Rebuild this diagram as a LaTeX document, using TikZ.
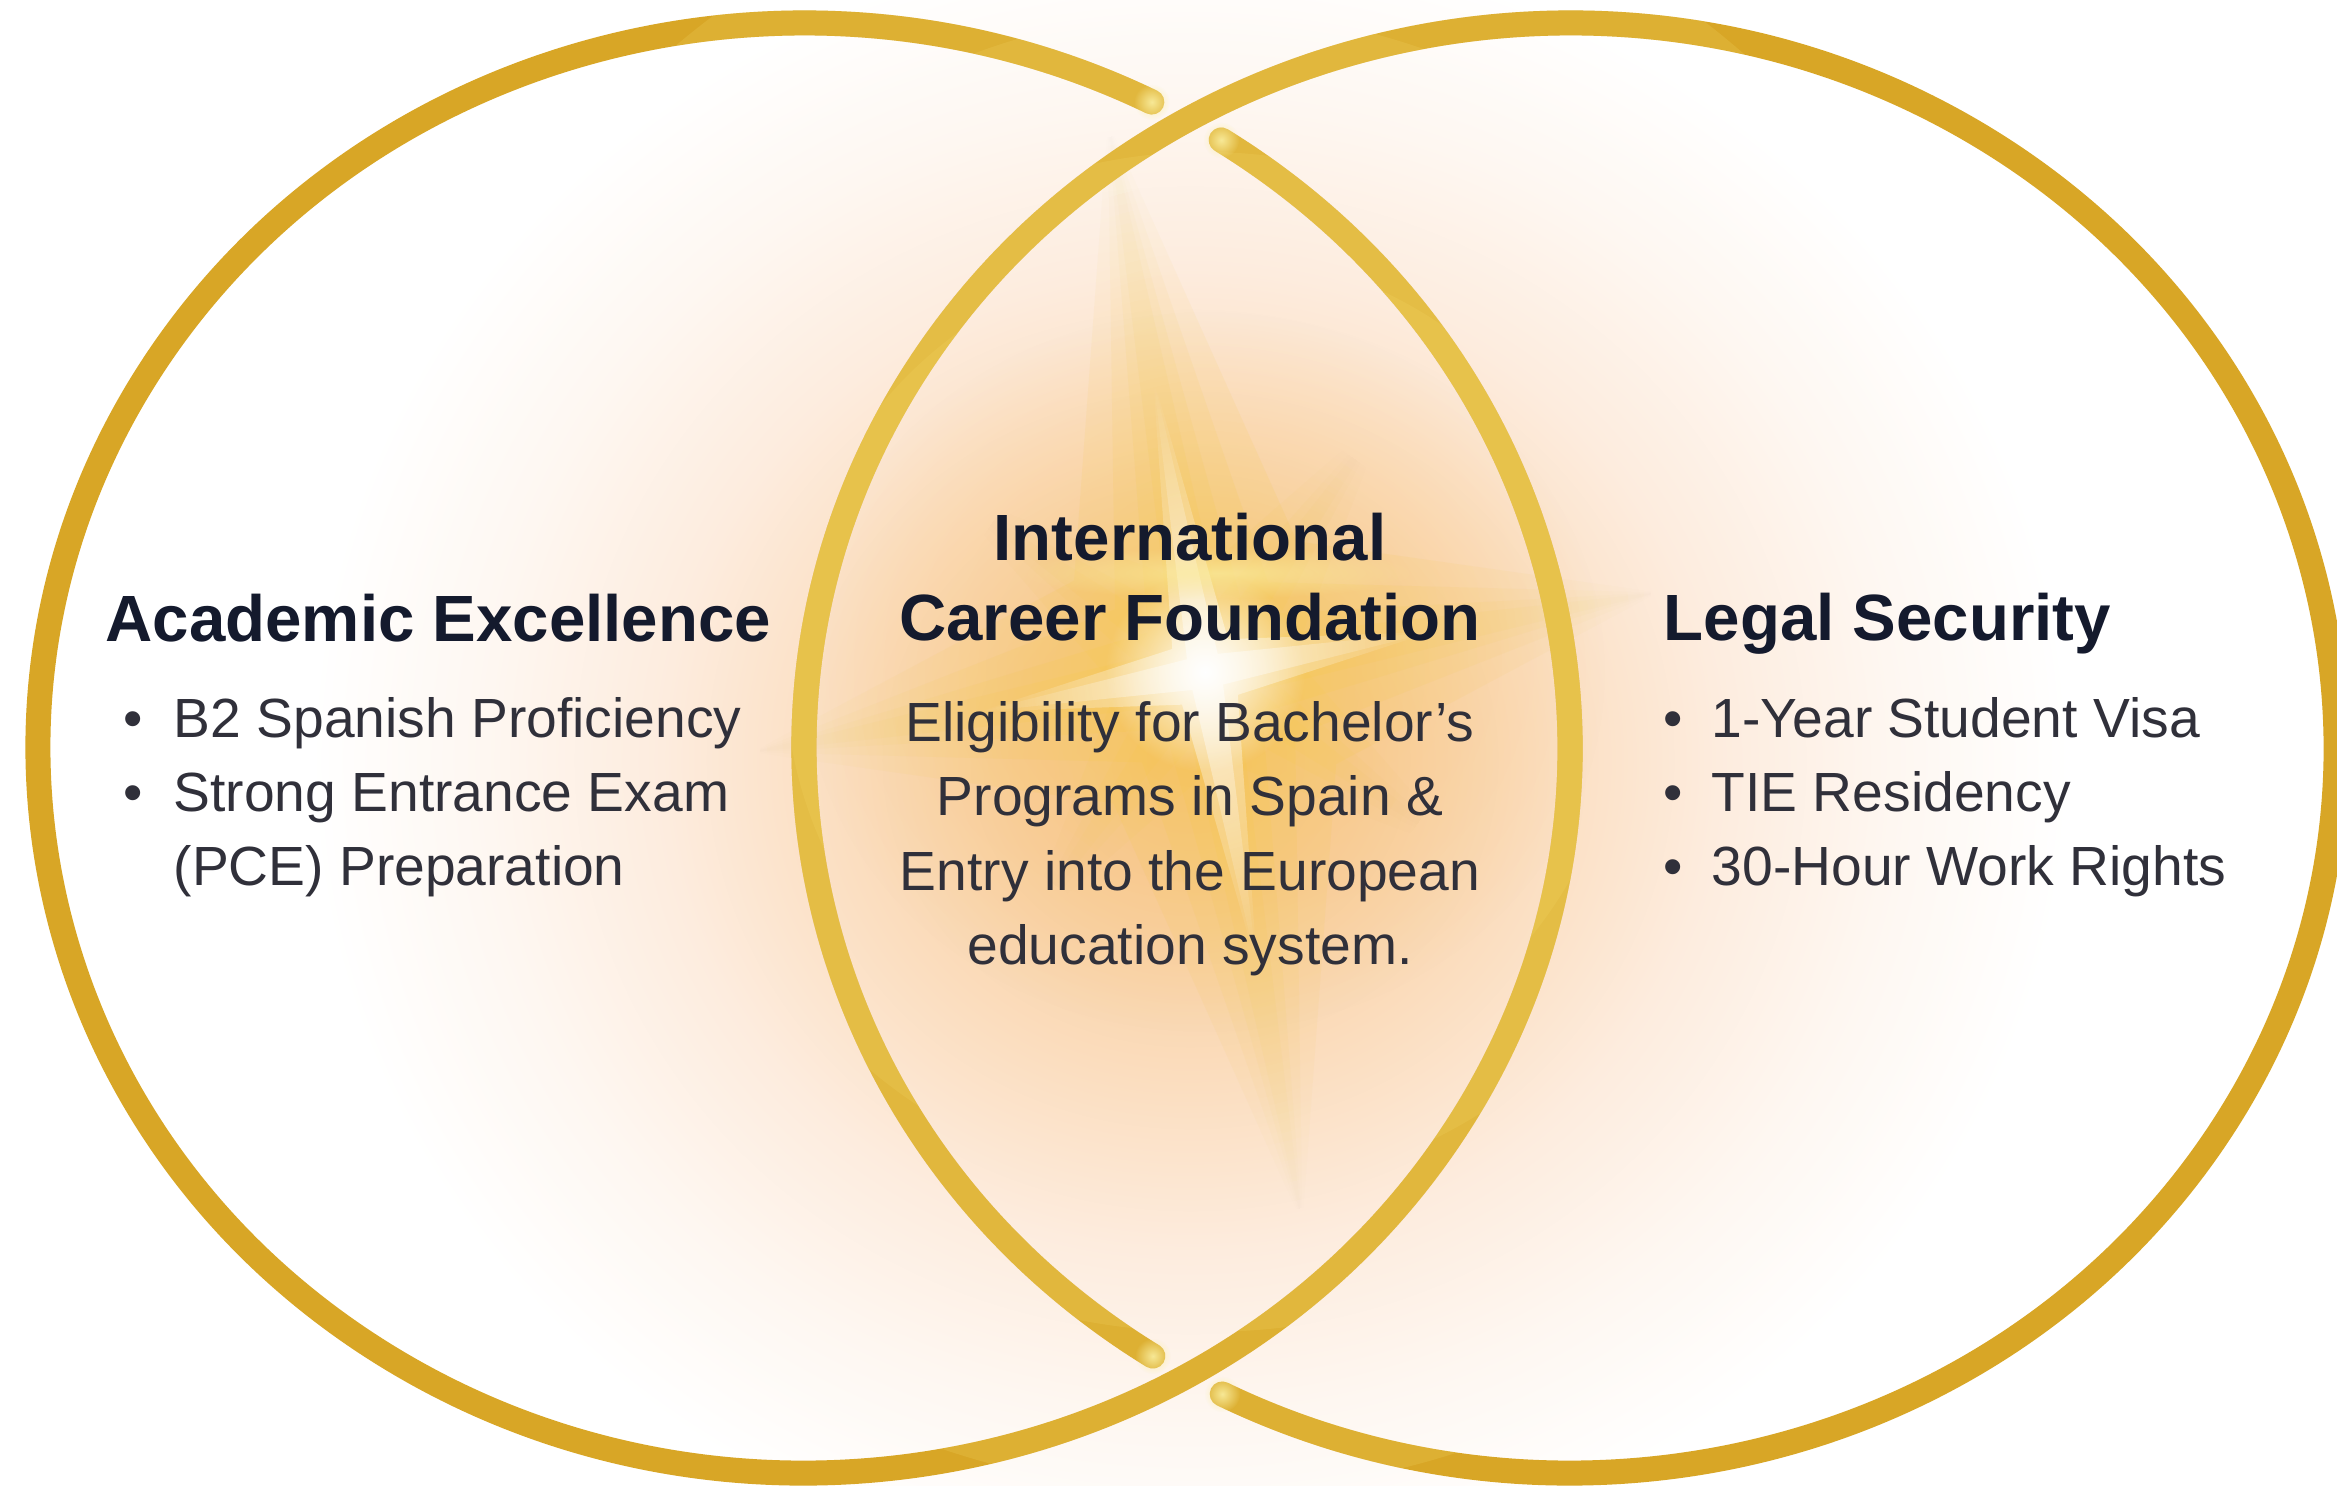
\documentclass[tikz,border=0pt]{standalone}
\usepackage{fontspec}
\setmainfont{Liberation Sans}
\usetikzlibrary{fadings,calc}
\definecolor{gold}{RGB}{216,166,38}
\definecolor{goldlight}{RGB}{242,212,100}
\definecolor{tipglow}{RGB}{250,238,160}
\definecolor{headc}{RGB}{20,26,45}
\definecolor{bodyc}{RGB}{48,48,58}
\definecolor{g0}{RGB}{247,198,142}
\definecolor{g1}{RGB}{249,208,162}
\definecolor{g2}{RGB}{251,222,192}
\definecolor{g3}{RGB}{253,236,222}
\definecolor{g4}{RGB}{254,247,241}
\definecolor{starc}{RGB}{245,200,70}
\definecolor{haloc}{RGB}{246,192,105}
\pgfdeclareradialshading{glowshade}{\pgfpointorigin}{color(0bp)=(g0); color(2.5bp)=(g1); color(5bp)=(g2); color(7.5bp)=(g3); color(10bp)=(g4); color(12.5bp)=(white); color(50bp)=(white)}
\pgfdeclareradialshading{fadeshade}{\pgfpointorigin}{color(0bp)=(white); color(25bp)=(black); color(50bp)=(black)}
\pgfdeclarefading{softfade}{\pgfuseshading{fadeshade}}
\tikzset{
  ring/.style={draw=gold, line width=0.25cm, line cap=round},
  ringlight/.style={draw=goldlight, line width=0.25cm, line cap=round, opacity=0.22},
  head/.style={font=\fontsize{18.6}{22}\selectfont\bfseries, text=headc, inner sep=0pt},
  bodytxt/.style={font=\fontsize{15.7}{21}\selectfont, text=bodyc, inner sep=0pt},
}
\newcommand\leftringpath[1]{\draw[#1] (L) ++(-57:766 and 725) arc[start angle=-57, end angle=297, x radius=766, y radius=725];}
\newcommand\rightringpath[1]{\draw[#1] (R) ++(123:766 and 725) arc[start angle=123, end angle=477, x radius=766, y radius=725];}
\newcommand\sparkle[6]{% colour, opacity, long arm, short arm, waist, base angle
  \fill[#1, opacity=#2, path fading=softfade]
  ($(S)+(#6:#3)$) -- ($(S)+(#6+45:#5)$) -- ($(S)+(#6+90:#4)$) -- ($(S)+(#6+135:#5)$) --
  ($(S)+(#6+180:#3)$) -- ($(S)+(#6+225:#5)$) -- ($(S)+(#6+270:#4)$) -- ($(S)+(#6+315:#5)$) -- cycle;}
\begin{document}
\begin{tikzpicture}[x=0.01cm, y=-0.01cm]
\useasboundingbox (0,0) rectangle (2337,1485);
\fill[white] (0,0) rectangle (2337,1485);
\coordinate (L) at (804,748);
\coordinate (R) at (1570,748);
\coordinate (S) at (1205,672);
\coordinate (G) at (1190,760);
% glow
\fill[shading=glowshade] (G) ellipse [x radius=1760, y radius=1640];
\fill[haloc, opacity=0.55, path fading=softfade] (S) ellipse [x radius=400, y radius=360];
% sparkle: soft stacked rays
\foreach \w in {160,110,70,40}{
  \sparkle{starc}{0.22}{560}{460}{\w}{-100}
}
\foreach \w in {90,50,25}{
  \sparkle{starc}{0.2}{320}{320}{\w}{-145}
}
\foreach \w in {40,22}{
  \sparkle{white}{0.5}{300}{230}{\w}{-100}
}
\fill[white, path fading=softfade] (S) circle [radius=100];
\fill[tipglow, opacity=0.7, path fading=softfade] (1218,573) ellipse [x radius=200, y radius=26];
% rings
\leftringpath{ring}
\rightringpath{ring}
\foreach \r in {820,660,520,420}{
  \begin{scope}
    \clip (S) circle [radius=\r];
    \leftringpath{ringlight}
    \rightringpath{ringlight}
  \end{scope}
}
% glinting ends at the crossings
\foreach \c/\a in {L/-57, L/-63, R/123, R/117}{
  \fill[tipglow, opacity=0.9, path fading=softfade] ($(\c)+(\a:766 and 725)$) circle [radius=18];
}
% left block
\node[head, anchor=base west] (aeh) at (105,641) {Academic Excellence};
\node[bodytxt, anchor=base] (ab1) at (133,737) {•};
\node[bodytxt, anchor=base west] (at1) at (173,737) {B2 Spanish Proficiency};
\node[bodytxt, anchor=base] (ab2) at (133,811) {•};
\node[bodytxt, anchor=base west] (at2) at (173,811) {Strong Entrance Exam};
\node[bodytxt, anchor=base west] (at3) at (173,885) {(PCE) Preparation};
% centre block
\node[head, anchor=base] (ch1) at (1190,560) {International};
\node[head, anchor=base] (ch2) at (1190,640) {Career Foundation};
\node[bodytxt, anchor=base] (cb1) at (1190,741) {Eligibility for Bachelor’s};
\node[bodytxt, anchor=base] (cb2) at (1190,815) {Programs in Spain \&};
\node[bodytxt, anchor=base] (cb3) at (1190,890) {Entry into the European};
\node[bodytxt, anchor=base] (cb4) at (1190,964) {education system.};
% right block
\node[head, anchor=base west] (lsh) at (1663,640) {Legal Security};
\node[bodytxt, anchor=base] (lb1) at (1673,737) {•};
\node[bodytxt, anchor=base west] (lt1) at (1711,737) {1-Year Student Visa};
\node[bodytxt, anchor=base] (lb2) at (1673,811) {•};
\node[bodytxt, anchor=base west] (lt2) at (1711,811) {TIE Residency};
\node[bodytxt, anchor=base] (lb3) at (1673,885) {•};
\node[bodytxt, anchor=base west] (lt3) at (1711,885) {30-Hour Work Rights};
\end{tikzpicture}
\end{document}
